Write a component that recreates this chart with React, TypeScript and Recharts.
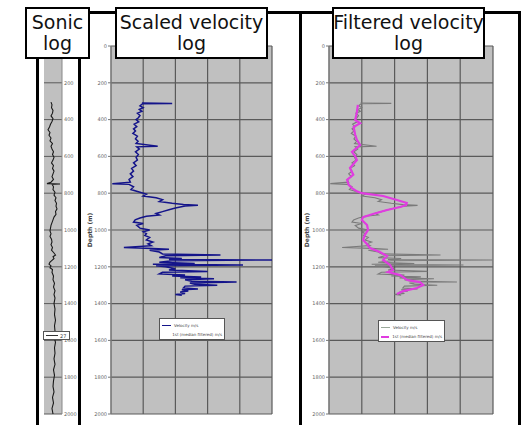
import { LineChart, Line, XAxis, YAxis, CartesianGrid, Legend } from 'recharts';

// depth axis shared by all three tracks
const depthTicks = [0, 200, 400, 600, 800, 1000, 1200, 1400, 1600, 1800, 2000];
const sonicTicks = [200, 400, 600, 800, 1000, 1200, 1400, 1600, 1800, 2000];
const velocityTicks = [0, 1000, 2000, 3000, 4000, 5000];

// sonic log (us/ft)
const sonicDepth = [
  305, 320, 335, 350, 365, 380, 395, 410, 425, 440, 455, 470, 485, 500, 515, 530, 545, 560, 575, 590,
  605, 620, 635, 650, 665, 680, 695, 710, 725, 740, 748, 750, 752, 765, 780, 795, 810, 825, 840, 855,
  870, 885, 900, 915, 930, 945, 960, 975, 990, 1005, 1020, 1035, 1050, 1065, 1080, 1095, 1110, 1125, 1136, 1145,
  1155, 1165, 1175, 1185, 1195, 1205, 1215, 1230, 1250, 1270, 1290, 1310, 1330, 1350, 1370, 1400, 1430, 1460, 1490, 1520,
  1550, 1580, 1610, 1640, 1670, 1700, 1730, 1760, 1790, 1820, 1850, 1880, 1910, 1940, 1970, 2000,
];
const sonicDt = [
  70, 80, 75, 90, 85, 70, 90, 80, 65, 55, 40, 60, 50, 70, 60, 85, 70, 80, 95, 85,
  100, 90, 75, 95, 85, 100, 90, 80, 95, 70, 30, 160, 80, 95, 90, 110, 100, 120, 110, 125,
  120, 130, 115, 120, 100, 90, 80, 70, 65, 60, 70, 60, 75, 80, 70, 85, 75, 100, 115, 90,
  100, 80, 60, 50, 70, 60, 85, 80, 95, 90, 105, 95, 110, 100, 110, 100, 110, 105, 115, 105,
  110, 100, 115, 105, 110, 100, 110, 95, 105, 95, 90, 100, 85, 95, 80, 90,
];

// velocity log (m/s)
const velDepth = [
  310, 312, 314, 325, 335, 345, 355, 365, 378, 390, 400, 412, 425, 438, 450, 462, 475, 490, 505, 518,
  530, 545, 548, 560, 575, 590, 605, 620, 635, 650, 665, 680, 695, 710, 725, 740, 748, 752, 765, 780,
  795, 805, 815, 825, 835, 845, 855, 862, 866, 870, 880, 890, 900, 910, 918, 925, 935, 945, 957, 965,
  975, 990, 1000, 1010, 1020, 1030, 1040, 1054, 1065, 1075, 1085, 1095, 1100, 1105, 1110, 1120, 1130, 1136, 1140, 1150,
  1155, 1160, 1163, 1167, 1175, 1182, 1186, 1190, 1194, 1200, 1210, 1217, 1225, 1230, 1239, 1245, 1250, 1255, 1260, 1265,
  1270, 1278, 1283, 1288, 1295, 1300, 1305, 1315, 1320, 1325, 1332, 1337, 1345, 1350, 1355,
];
const velValue = [
  960, 1900, 980, 900, 1000, 880, 960, 820, 900, 850, 780, 860, 720, 800, 700, 760, 680, 820, 760, 840,
  780, 1450, 800, 880, 760, 850, 780, 820, 700, 780, 640, 700, 600, 680, 560, 600, 40, 560, 700, 620,
  900, 1100, 1000, 1400, 1600, 1500, 1900, 2250, 2700, 2300, 2000, 1800, 1600, 1400, 1500, 1100, 900, 750, 700, 1000,
  800, 900, 1200, 1000, 1100, 1050, 1200, 1100, 1300, 1150, 1250, 400, 1300, 1800, 1200, 1500, 1600, 3400, 1700, 1500,
  2200, 1800, 5000, 1900, 1500, 2600, 1300, 4100, 1400, 1700, 2000, 1800, 3000, 1600, 1500, 2300, 1900, 2800, 2150, 3200,
  2300, 2500, 3900, 2450, 2600, 3300, 2300, 2250, 2700, 2200, 2400, 2150, 2300, 2000, 2200,
];

// median filtered velocity (m/s)
const filtDepth = [
  320, 360, 402, 420, 440, 484, 510, 538, 576, 600, 620, 663, 700, 728, 755, 772, 790, 800, 815, 837,
  853, 865, 875, 891, 913, 930, 946, 973, 1000, 1025, 1054, 1075, 1098, 1120, 1141, 1163, 1190, 1217, 1228, 1245,
  1272, 1283, 1299, 1315, 1332, 1348,
];
const filtValue = [
  880, 850, 800, 950, 750, 800, 850, 950, 700, 800, 850, 640, 740, 550, 600, 700, 850, 1000, 1650, 2070,
  2370, 2350, 2170, 1770, 1340, 1040, 1000, 1160, 1190, 1100, 1040, 1150, 1250, 1550, 1770, 1650, 1860, 1950, 1800, 2170,
  2380, 2770, 2870, 2680, 2260, 2070,
];

const sonicData = sonicDepth.map((d, i) => ({ depth: d, dt: sonicDt[i] }));
const velData = velDepth.map((d, i) => ({ depth: d, v: velValue[i] }));
const filtData = filtDepth.map((d, i) => ({ depth: d, f: filtValue[i] }));

const FONT = '"DejaVu Sans", Verdana, sans-serif';
const GRID = '#5a5a5a';
const PLOT_BG = '#c0c0c0';

type LegendItem = { label: string; color: string; width: number };

function LegendBox({ items }: { items: LegendItem[] }) {
  return (
    <div
      style={{
        width: '100%',
        height: '100%',
        boxSizing: 'border-box',
        background: '#fff',
        border: '1px solid #555',
        padding: '2px 2px',
        fontFamily: FONT,
        fontSize: 4,
        lineHeight: '9px',
        color: '#444',
        overflow: 'hidden',
      }}
    >
      {items.map((it) => (
        <div key={it.label} style={{ display: 'flex', alignItems: 'center', whiteSpace: 'nowrap' }}>
          <span
            style={{
              display: 'inline-block',
              width: 9,
              height: 0,
              borderTop: `${it.width}px solid ${it.color}`,
              marginRight: 3,
            }}
          />
          {it.label}
        </div>
      ))}
    </div>
  );
}

function TitleBox({ left, width, lines }: { left: number; width: number; lines: string[] }) {
  return (
    <div
      style={{
        position: 'absolute',
        left,
        top: 7,
        width,
        height: 52,
        boxSizing: 'border-box',
        border: '2.5px solid #000',
        background: '#fff',
        display: 'flex',
        flexDirection: 'column',
        alignItems: 'center',
        justifyContent: 'center',
        fontFamily: FONT,
        fontSize: 19,
        lineHeight: '21px',
        color: '#111',
        whiteSpace: 'nowrap',
      }}
    >
      {lines.map((l) => (
        <div key={l}>{l}</div>
      ))}
    </div>
  );
}

function Bar({ x, y, w, h }: { x: number; y: number; w: number; h: number }) {
  return <div style={{ position: 'absolute', left: x, top: y, width: w, height: h, background: '#000' }} />;
}

const tickStyle = { fontSize: 5, fill: '#666', fontFamily: FONT };
const noTick = () => <g />;
const depthLabel = (offset: number) => ({
  value: 'Depth (m)',
  angle: -90,
  position: 'insideLeft' as const,
  offset,
  style: { textAnchor: 'middle', fontSize: 6, fontWeight: 'bold', fill: '#444', fontFamily: FONT },
});

export default function App() {
  return (
    <div style={{ position: 'fixed', left: 0, top: 0, width: 522, height: 425, background: '#fff', overflow: 'hidden' }}>
      {/* sonic log track */}
      <div style={{ position: 'absolute', left: 40, top: 36 }}>
        <LineChart
          width={42}
          height={388}
          layout="vertical"
          margin={{ top: 10, right: 0, bottom: 10, left: 4 }}
        >
          <CartesianGrid fill={PLOT_BG} stroke={GRID} strokeWidth={1} vertical={false} />
          <XAxis type="number" domain={[0, 180]} hide />
          <YAxis
            type="number"
            dataKey="depth"
            orientation="right"
            domain={[0, 2000]}
            ticks={sonicTicks}
            interval={0}
            width={20}
            tick={tickStyle}
            tickSize={0}
            tickMargin={2}
            axisLine={{ stroke: '#888' }}
          />
          <Line
            data={sonicData}
            dataKey="dt"
            name="27"
            stroke="#1a1a1a"
            strokeWidth={1.1}
            dot={false}
            isAnimationActive={false}
          />
          <Legend
            layout="vertical"
            align="center"
            verticalAlign="middle"
            wrapperStyle={{ left: 3, top: 295, width: 27, height: 9 }}
            content={() => (
              <div
                style={{
                  width: '100%',
                  height: '100%',
                  boxSizing: 'border-box',
                  background: '#fff',
                  border: '1px solid #555',
                  display: 'flex',
                  alignItems: 'center',
                  padding: '0 2px',
                  fontFamily: FONT,
                  fontSize: 5,
                  color: '#444',
                }}
              >
                <span style={{ display: 'inline-block', width: 12, borderTop: '1px solid #333', marginRight: 2 }} />
                27
              </div>
            )}
          />
        </LineChart>
      </div>

      {/* scaled velocity track */}
      <div style={{ position: 'absolute', left: 81, top: 36 }}>
        <LineChart
          width={201}
          height={388}
          layout="vertical"
          margin={{ top: 10, right: 10, bottom: 10, left: 0 }}
        >
          <CartesianGrid fill={PLOT_BG} stroke={GRID} strokeWidth={1.2} />
          <XAxis
            type="number"
            orientation="top"
            domain={[0, 5000]}
            ticks={velocityTicks}
            interval={0}
            height={0}
            tick={noTick}
            tickLine={false}
            axisLine={false}
          />
          <YAxis
            type="number"
            dataKey="depth"
            domain={[0, 2000]}
            ticks={depthTicks}
            interval={0}
            width={30}
            tick={tickStyle}
            tickSize={3}
            tickMargin={1}
            tickLine={{ stroke: '#777' }}
            axisLine={{ stroke: '#888' }}
            label={depthLabel(9)}
          />
          <Line
            data={velData}
            dataKey="v"
            name="Velocity m/s"
            stroke="#14148a"
            strokeWidth={1.5}
            dot={false}
            isAnimationActive={false}
          />
          <Legend
            layout="vertical"
            align="center"
            verticalAlign="middle"
            wrapperStyle={{ left: 78, top: 282, width: 66, height: 22 }}
            content={() => (
              <LegendBox
                items={[
                  { label: 'Velocity m/s', color: '#14148a', width: 1 },
                  { label: '1st (median filtered) m/s', color: '#fff', width: 1 },
                ]}
              />
            )}
          />
        </LineChart>
      </div>

      {/* filtered velocity track */}
      <div style={{ position: 'absolute', left: 299, top: 36 }}>
        <LineChart
          width={204}
          height={388}
          layout="vertical"
          margin={{ top: 10, right: 10, bottom: 10, left: 0 }}
        >
          <CartesianGrid fill={PLOT_BG} stroke={GRID} strokeWidth={1.2} />
          <XAxis
            type="number"
            orientation="top"
            domain={[0, 5000]}
            ticks={velocityTicks}
            interval={0}
            height={0}
            tick={noTick}
            tickLine={false}
            axisLine={false}
          />
          <YAxis
            type="number"
            dataKey="depth"
            domain={[0, 2000]}
            ticks={depthTicks}
            interval={0}
            width={30}
            tick={tickStyle}
            tickSize={3}
            tickMargin={1}
            tickLine={{ stroke: '#777' }}
            axisLine={{ stroke: '#888' }}
            label={depthLabel(8)}
          />
          <Line
            data={velData}
            dataKey="v"
            name="Velocity m/s"
            stroke="#7a7a7a"
            strokeWidth={1.1}
            dot={false}
            isAnimationActive={false}
          />
          <Line
            data={filtData}
            dataKey="f"
            name="1st (median filtered) m/s"
            stroke="#e03ce0"
            strokeWidth={2.2}
            dot={false}
            isAnimationActive={false}
          />
          <Legend
            layout="vertical"
            align="center"
            verticalAlign="middle"
            wrapperStyle={{ left: 79, top: 284, width: 67, height: 22 }}
            content={() => (
              <LegendBox
                items={[
                  { label: 'Velocity m/s', color: '#9aa89a', width: 1 },
                  { label: '1st (median filtered) m/s', color: '#e03ce0', width: 2 },
                ]}
              />
            )}
          />
        </LineChart>
      </div>

      {/* frame lines */}
      <Bar x={36} y={58} w={3} h={367} />
      <Bar x={78} y={58} w={3} h={367} />
      <Bar x={89} y={11} w={27} h={3} />
      <Bar x={267} y={11} w={34} h={3} />
      <Bar x={299} y={11} w={3} h={414} />
      <Bar x={301} y={11} w={32} h={3} />
      <Bar x={484} y={11} w={37} h={3} />
      <Bar x={518} y={11} w={3} h={414} />

      <TitleBox left={25} width={65} lines={['Sonic', 'log']} />
      <TitleBox left={115} width={153} lines={['Scaled velocity', 'log']} />
      <TitleBox left={332} width={153} lines={['Filtered velocity', 'log']} />
    </div>
  );
}
